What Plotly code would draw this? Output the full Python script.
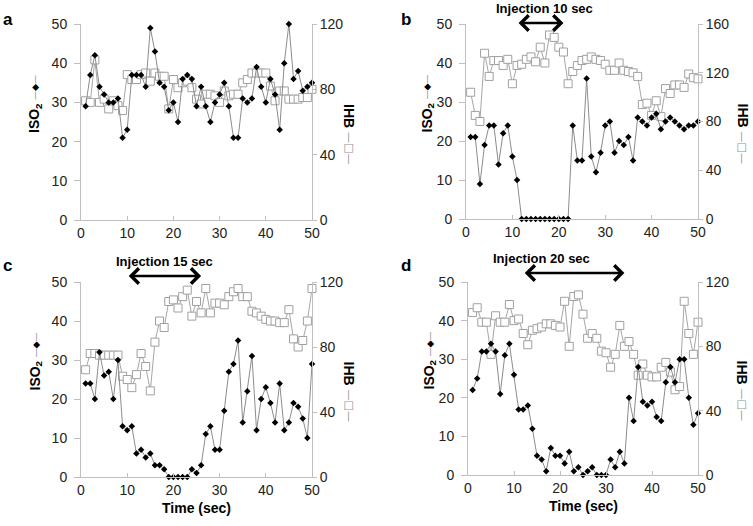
import plotly.graph_objects as go

time = list(range(1, 51))

iso2_a = [29, 37, 42, 34, 32, 30, 30, 31, 21, 23, 37, 37, 37, 34, 49, 43, 35, 34, 28, 30,
          25, 36, 37, 36, 29, 34, 29, 25, 30, 32, 35, 29, 21, 21, 31, 30, 31, 39, 34, 30,
          36, 32, 23, 40, 50, 36, 38, 33, 34, 35]
ihb_a = [73, 72, 98, 72, 74, 68, 73, 70, 67, 89, 86, 86, 89, 90, 85, 90, 88, 88, 68, 86,
         81, 84, 85, 81, 74, 71, 77, 77, 76, 72, 79, 76, 77, 77, 84, 86, 90, 90, 90, 90,
         82, 73, 79, 79, 74, 74, 74, 75, 75, 80]

iso2_b = [21, 21, 9, 19, 24, 24, 14, 22, 24, 16, 10, 0, 0, 0, 0, 0, 0, 0, 0, 0,
          0, 0, 24, 15, 15, 36, 16, 12, 17, 24, 25, 17, 20, 19, 21, 15, 26, 25, 24, 26,
          27, 23, 25, 26, 25, 24, 23, 24, 24, 25]
ihb_b = [104, 85, 80, 136, 117, 130, 130, 126, 131, 111, 126, 127, 131, 133, 129, 141, 128, 151, 149, 141,
         137, 111, 121, 126, 130, 131, 133, 131, 130, 127, 122, 122, 128, 122, 121, 120, 117, 94, 95, 85,
         97, 84, 107, 103, 110, 110, 108, 119, 116, 115]

iso2_c = [24, 24, 20, 32, 26, 27, 20, 30, 13, 12, 13, 6, 7, 5, 6, 3, 3, 2, 0, 0,
          0, 0, 0, 2, 1, 3, 11, 13, 7, 7, 17, 27, 29, 35, 14, 22, 31, 12, 20, 23,
          19, 14, 24, 12, 14, 19, 18, 15, 10, 29]
ihb_c = [66, 76, 76, 75, 75, 75, 75, 75, 62, 60, 55, 63, 76, 68, 53, 83, 96, 92, 108, 109,
         104, 111, 115, 99, 108, 101, 116, 101, 107, 107, 106, 111, 114, 116, 111, 111, 102, 101, 99, 97,
         96, 96, 95, 95, 103, 85, 80, 84, 96, 116]

iso2_d = [22, 25, 32, 32, 34, 32, 21, 31, 34, 26, 17, 17, 18, 12, 5, 4, 1, 7, 5, 5,
          3, 6, 1, 2, 0, 1, 2, 0, 0, 0, 4, 2, 6, 3, 20, 14, 28, 19, 18, 19,
          15, 14, 24, 28, 24, 30, 30, 20, 13, 16]
ihb_d = [101, 104, 95, 95, 75, 99, 95, 95, 106, 96, 97, 88, 81, 90, 91, 92, 94, 94, 93, 92,
         108, 80, 111, 112, 100, 85, 88, 85, 77, 76, 67, 75, 93, 80, 83, 75, 62, 69, 62, 61,
         61, 67, 70, 64, 53, 55, 108, 88, 75, 95]

panel_letters = ["a", "b", "c", "d"]
ihb_max = [120, 160, 120, 120]
injection_text = [None, "Injection 10 sec", "Injection 15 sec", "Injection 20 sec"]
injection_start = [None, 11, 10, 12]
injection_end = [None, 21, 26, 34]
injection_label_x = [None, 17, 18, 16]

W, H = 753, 526
# plot boxes in pixels: (left, right, top, bottom)
boxes = [(81, 312, 24, 220), (466, 698, 24, 219), (81, 312, 282, 477), (468, 698, 282, 475)]

iso2 = [iso2_a, iso2_b, iso2_c, iso2_d]
ihb = [ihb_a, ihb_b, ihb_c, ihb_d]

FONT = "Arial, Liberation Sans, sans-serif"
AXC = "#bfbfbf"
TICKF = dict(family=FONT, size=14, color="#222")

fig = go.Figure()
layout = dict(width=W, height=H, margin=dict(l=0, r=0, t=0, b=0, autoexpand=False),
              plot_bgcolor="white", paper_bgcolor="white", showlegend=False)
annotations = []

def px(x):
    return x / W

def py(y):
    return 1 - y / H

def note(text, x, y, angle=0, font=None):
    return dict(text=text, x=px(x), y=py(y), xref="paper", yref="paper", showarrow=False,
                xanchor="center", yanchor="middle", textangle=angle, font=font)

for i in range(4):
    l, r, t, b = boxes[i]
    xn = "x" if i == 0 else f"x{i+1}"
    xk = "xaxis" if i == 0 else f"xaxis{i+1}"
    yb = 2 * i + 1  # base axis (right, IHB)
    yo = 2 * i + 2  # overlay axis (left, ISO2)
    ybn = "y" if yb == 1 else f"y{yb}"
    ybk = "yaxis" if yb == 1 else f"yaxis{yb}"
    yon = f"y{yo}"
    yok = f"yaxis{yo}"

    fig.add_trace(go.Scatter(x=time, y=ihb[i], xaxis=xn, yaxis=ybn, mode="lines+markers",
                             line=dict(color="#a6a6a6", width=1),
                             marker=dict(symbol="square", size=8, color="white",
                                         line=dict(color="#a0a0a0", width=1)),
                             cliponaxis=False))
    fig.add_trace(go.Scatter(x=time, y=iso2[i], xaxis=xn, yaxis=yon, mode="lines+markers",
                             line=dict(color="#8c8c8c", width=1),
                             marker=dict(symbol="diamond", size=5, color="black"),
                             cliponaxis=False))

    layout[xk] = dict(domain=[px(l), px(r)], range=[0, 50], anchor=ybn,
                      tickvals=[0, 10, 20, 30, 40, 50], showgrid=False, zeroline=False,
                      showline=True, linecolor=AXC, linewidth=1, automargin=False,
                      ticks="inside", ticklen=4, tickcolor=AXC, tickfont=TICKF)
    layout[ybk] = dict(domain=[py(b), py(t)], range=[0, ihb_max[i]], anchor=xn, side="right",
                       tickvals=list(range(0, ihb_max[i] + 1, 40)), showgrid=False, zeroline=False,
                       showline=True, linecolor=AXC, linewidth=1, automargin=False,
                       ticks="outside", ticklen=4, tickcolor=AXC, tickfont=TICKF)
    layout[yok] = dict(range=[0, 50], overlaying=ybn, anchor=xn, side="left",
                       tickvals=[0, 10, 20, 30, 40, 50], showgrid=False, zeroline=False,
                       showline=True, linecolor=AXC, linewidth=1, automargin=False,
                       ticks="outside", ticklen=6, tickcolor=AXC, tickfont=TICKF,
                       ticklabelstandoff=4)

    cy = (t + b) / 2
    if i >= 2:
        annotations.append(note("<b>Time (sec)</b>", (l + r) / 2, b + 31,
                                font=dict(family=FONT, size=14, color="black")))
    # panel letter
    annotations.append(note(f"<b>{panel_letters[i]}</b>", 8 if i % 2 == 0 else 406, t - 5 if i < 2 else t - 17,
                            font=dict(family=FONT, size=17, color="black")))
    # left title
    lx = l - 46 if i % 2 == 0 else l - 39
    annotations.append(note("<b>ISO<sub>2</sub></b>", lx, cy - 4, angle=-90,
                            font=dict(family=FONT, size=14, color="black")))
    annotations.append(note("<span style='color:#808080'>—</span>◆<span style='color:#808080'>—</span>",
                            lx, cy - 34, angle=-90, font=dict(family="DejaVu Sans", size=9, color="black")))
    # right title
    rx = r + 37 if i % 2 == 0 else r + 44
    annotations.append(note("<b>IHB</b>", rx, cy - 6, angle=90,
                            font=dict(family=FONT, size=14, color="black")))
    annotations.append(note("—□—", rx, cy + 26, angle=90,
                            font=dict(family="DejaVu Sans", size=11, color="#909090")))

    if injection_text[i]:
        ay_pix = {1: 23, 2: 276, 3: 273}[i]
        annotations.append(dict(text="", x=injection_end[i], ax=injection_start[i], xref=xn, axref=xn,
                                y=py(ay_pix), yref="paper", ay=0, ayref="pixel",
                                showarrow=True, arrowhead=4, startarrowhead=4, arrowside="end+start",
                                arrowwidth=2.5, arrowsize=1.2, startarrowsize=1.2, arrowcolor="black"))
        annotations.append(dict(text=f"<b>{injection_text[i]}</b>", x=injection_label_x[i], xref=xn,
                                y=py(ay_pix - 15), yref="paper", showarrow=False,
                                xanchor="center", yanchor="middle",
                                font=dict(family=FONT, size=13, color="black")))

layout["annotations"] = annotations
fig.update_layout(**layout)
fig.write_html("out.html", config={"displayModeBar": False},
               post_script="document.body.style.margin='0px';document.body.style.overflow='hidden';")
